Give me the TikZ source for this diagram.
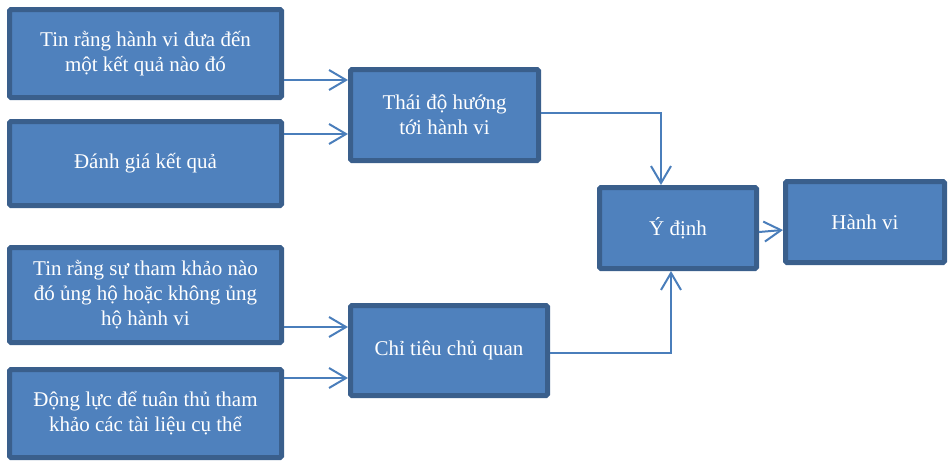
\documentclass[tikz,border=0pt]{standalone}
\usepackage{fontspec}
\setmainfont{Liberation Serif}
\usetikzlibrary{arrows.meta}
\definecolor{boxfill}{HTML}{4F81BD}
\definecolor{boxline}{HTML}{3A5F8C}
\definecolor{conn}{HTML}{4A7EBB}
\tikzset{
  box/.style={rectangle, draw=boxline, fill=boxfill, line width=5pt, rounded corners=1.5pt,
    text=white, align=center, inner sep=0pt,
    font=\fontsize{21pt}{25pt}\selectfont},
  arr/.style={draw=conn, line width=2pt, -{Straight Barb[length=17pt,width=20pt,line width=2pt]}}
}
\begin{document}
\begin{tikzpicture}[x=1pt,y=-1pt]
\useasboundingbox (0,0) rectangle (950,461);
\node[box, minimum width=272pt, minimum height=88pt] (A) at (145.5,53.5) {Tin rằng hành vi đưa đến\\một kết quả nào đó};
\node[box, minimum width=272pt, minimum height=84pt] (B) at (145.5,163.5) {Đánh giá kết quả};
\node[box, minimum width=188pt, minimum height=91pt] (C) at (444.5,115) {Thái độ hướng\\tới hành vi};
\node[box, minimum width=157pt, minimum height=81pt] (D) at (678,228) {Ý định};
\node[box, minimum width=159pt, minimum height=81pt] (E) at (865,222) {Hành vi};
\node[box, minimum width=272pt, minimum height=95pt] (F) at (145.5,295) {Tin rằng sự tham khảo nào\\đó ủng hộ hoặc không ủng\\hộ hành vi};
\node[box, minimum width=272pt, minimum height=88pt] (G) at (145.5,413.5) {Động lực để tuân thủ tham\\khảo các tài liệu cụ thể};
\node[box, minimum width=197pt, minimum height=90pt] (H) at (449,350.5) {Chỉ tiêu chủ quan};
% connectors
\draw[arr] ([yshift=-26.5pt]A.east) coordinate (a1) -- (a1 -| C.west);
\draw[arr] ([yshift=29.5pt]B.east) coordinate (a2) -- (a2 -| C.west);
\draw[arr] ([yshift=-32pt]F.east) coordinate (a3) -- (a3 -| H.west);
\draw[arr] ([yshift=35.5pt]G.east) coordinate (a4) -- (a4 -| H.west);
\draw[arr] ([yshift=2pt]C.east) -| ([xshift=-17pt]D.north);
\draw[arr] ([yshift=-2.5pt]H.east) -| ([xshift=-7pt]D.south);
\draw[arr] ([yshift=-4pt]D.east) -- ([yshift=-8pt]E.west);
\end{tikzpicture}
\end{document}
